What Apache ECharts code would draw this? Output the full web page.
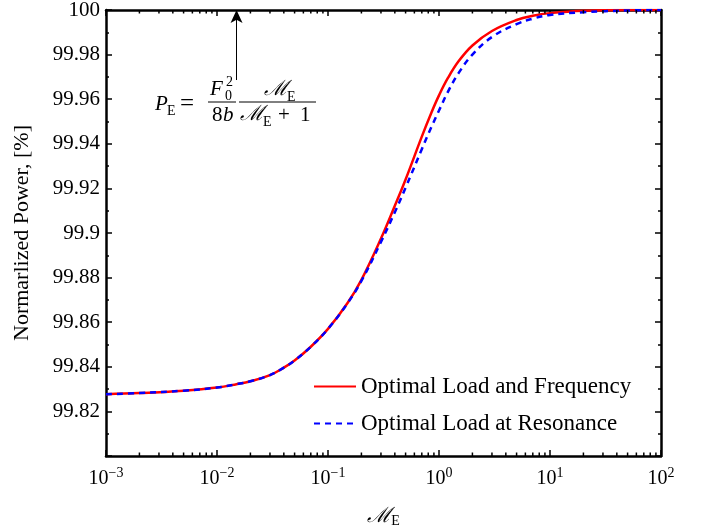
<!DOCTYPE html>
<html><head><meta charset="utf-8">
<script src="https://cdn.jsdelivr.net/npm/echarts@6/dist/echarts.min.js"></script>
<style>html,body{margin:0;padding:0;background:#fff}#c{width:702px;height:531px}</style>
</head><body><div id="c"></div>
<script>
const xValues   = [0.001, 0.002, 0.005, 0.01, 0.015, 0.02, 0.03, 0.04, 0.05, 0.07, 0.1, 0.15, 0.2, 0.3, 0.4, 0.5, 0.7, 0.85, 1, 1.2, 1.5, 2, 3, 5, 7, 10, 20, 50, 100];
const redValues = [99.8277, 99.8282, 99.8293, 99.8307, 99.8322, 99.8335, 99.8363, 99.8396, 99.8428, 99.8490, 99.8570, 99.8686, 99.8790, 99.8975, 99.9122, 99.9240, 99.9432, 99.9537, 99.9617, 99.9694, 99.9770, 99.9841, 99.9906, 99.9955, 99.9974, 99.9986, 99.9997, 100.0, 100.0];
const blueValues= [99.8277, 99.8282, 99.8293, 99.8307, 99.8322, 99.8335, 99.8363, 99.8396, 99.8428, 99.8490, 99.8570, 99.8685, 99.8785, 99.8960, 99.9093, 99.9203, 99.9376, 99.9473, 99.9549, 99.9632, 99.9717, 99.9800, 99.9879, 99.9937, 99.9961, 99.9978, 99.9990, 99.9998, 100.0];
const xMinorTicks = [0.002,0.003,0.004,0.005,0.006,0.007,0.008,0.009,
                     0.02,0.03,0.04,0.05,0.06,0.07,0.08,0.09,
                     0.2,0.3,0.4,0.5,0.6,0.7,0.8,0.9,
                     2,3,4,5,6,7,8,9,
                     20,30,40,50,60,70,80,90];
const seriesNames = ['Optimal Load and Frequency', 'Optimal Load at Resonance'];
const yMin = 99.8, yMax = 100, yInterval = 0.02;
const xMin = 0.001, xMax = 100;
const arrowX = 0.0150, arrowFromY = 99.9686;

const FONT = 'Liberation Serif';
const chart = echarts.init(document.getElementById('c'), null, {renderer:'canvas'});

function xLabel(v){
  const e = Math.round(Math.log10(v));
  return '{b|10}{s|' + (e < 0 ? '\u2212' + (-e) : e) + '}';
}
const xRich = {
  b:{fontFamily:FONT, fontSize:20, color:'#000'},
  s:{fontFamily:FONT, fontSize:14, color:'#000', padding:[0,0,12,0]}
};
const axisLineStyle = {color:'#000', width:2.5};
const tickStyle = {color:'#000', width:1.5};

chart.setOption({
  animation:false,
  backgroundColor:'#fff',
  grid:{left:106, right:41, top:10, bottom:75, outerBoundsMode:'none', containLabel:false},
  legend:{
    orient:'vertical', left:308, top:370, itemWidth:42, itemHeight:14, itemGap:14,
    data:seriesNames,
    itemStyle:{color:'rgba(0,0,0,0)', borderColor:'rgba(0,0,0,0)', borderWidth:0, opacity:0},
    textStyle:{fontFamily:FONT, fontSize:23, color:'#000'}
  },
  xAxis:[{
    type:'log', logBase:10, min:xMin, max:xMax, position:'bottom',
    name:'{m|\u2133}{e|E}', nameLocation:'middle', nameGap:50,
    nameTextStyle:{rich:{m:{fontFamily:'DejaVu Serif', fontSize:21, fontStyle:'italic', color:'#000'}, e:{fontFamily:FONT, fontSize:14, color:'#000', padding:[8,0,0,0]}}},
    axisLine:{show:true, lineStyle:axisLineStyle},
    axisTick:{show:true, inside:true, length:6, lineStyle:tickStyle},
    axisLabel:{formatter:xLabel, rich:xRich, margin:10},
    splitLine:{show:false}
  },{
    type:'log', logBase:10, min:xMin, max:xMax, position:'top',
    axisLine:{show:true, lineStyle:axisLineStyle},
    axisTick:{show:true, inside:true, length:6, lineStyle:tickStyle},
    axisLabel:{show:false}, splitLine:{show:false}
  }],
  yAxis:[{
    type:'value', min:yMin, max:yMax, interval:yInterval, position:'left',
    name:'Normarlized Power, [%]', nameLocation:'middle', nameGap:73, nameRotate:90,
    nameTextStyle:{fontFamily:FONT, fontSize:22, color:'#000'},
    axisLine:{show:true, lineStyle:axisLineStyle},
    axisTick:{show:true, inside:true, length:6, lineStyle:tickStyle},
    minorTick:{show:true, splitNumber:2, length:3, lineStyle:tickStyle},
    axisLabel:{fontFamily:FONT, fontSize:21, color:'#000', margin:6,
      formatter:v => Math.abs(v - yMin) < 1e-6 ? '' : String(+v.toFixed(2))},
    splitLine:{show:false}
  },{
    type:'value', min:yMin, max:yMax, interval:yInterval, position:'right',
    axisLine:{show:true, lineStyle:axisLineStyle},
    axisTick:{show:true, inside:true, length:6, lineStyle:tickStyle},
    minorTick:{show:true, splitNumber:2, length:3, lineStyle:tickStyle},
    axisLabel:{show:false}, splitLine:{show:false}
  }],
  series:[{
    name:seriesNames[0], type:'line', smooth:0.4, symbol:'none',
    data:xValues.map((x,i)=>[x, redValues[i]]),
    lineStyle:{color:'#ff0000', width:2.5}, itemStyle:{color:'#ff0000'}, z:3,
    markLine:{
      silent:true, symbol:['none','arrow'], symbolSize:[9,13],
      label:{show:false},
      lineStyle:{color:'#000', width:1, type:'solid'},
      data:[[{coord:[arrowX, arrowFromY]}, {coord:[arrowX, yMax]}]]
    }
  },{
    name:seriesNames[1], type:'line', smooth:0.4, symbol:'none',
    data:xValues.map((x,i)=>[x, blueValues[i]]),
    lineStyle:{color:'#0000ff', width:2.5, type:[6,5]}, itemStyle:{color:'#0000ff'}, z:4
  },{
    type:'custom', silent:true, z:6,
    data:xMinorTicks.map(v=>[v, yMin]),
    encode:{x:0, y:1},
    renderItem:(params, api)=>{
      const v = api.value(0);
      const b = api.coord([v, yMin]);
      const t = api.coord([v, yMax]);
      return {type:'group', children:[
        {type:'line', shape:{x1:b[0], y1:b[1], x2:b[0], y2:b[1]-3.5}, style:{stroke:'#000', lineWidth:1.5}},
        {type:'line', shape:{x1:t[0], y1:t[1], x2:t[0], y2:t[1]+3.5}, style:{stroke:'#000', lineWidth:1.5}}
      ]};
    }
  }],
  graphic:[
    {type:'text', style:{x:155, y:104, text:'P', font:'italic 21px "Liberation Serif"', fill:'#000', textVerticalAlign:'middle'}},
    {type:'text', style:{x:167, y:111, text:'E', font:'14px "Liberation Serif"', fill:'#000', textVerticalAlign:'middle'}},
    {type:'text', style:{x:180, y:104, text:'=', font:'25px "Liberation Serif"', fill:'#000', textVerticalAlign:'middle'}},
    {type:'text', style:{x:210, y:89, text:'F', font:'italic 21px "Liberation Serif"', fill:'#000', textVerticalAlign:'middle'}},
    {type:'text', style:{x:225, y:96, text:'0', font:'14px "Liberation Serif"', fill:'#000', textVerticalAlign:'middle'}},
    {type:'text', style:{x:226, y:82, text:'2', font:'14px "Liberation Serif"', fill:'#000', textVerticalAlign:'middle'}},
    {type:'line', shape:{x1:208, y1:102, x2:236, y2:102}, style:{stroke:'#000', lineWidth:1}},
    {type:'text', style:{x:212, y:115, text:'8', font:'21px "Liberation Serif"', fill:'#000', textVerticalAlign:'middle'}},
    {type:'text', style:{x:223, y:115, text:'b', font:'italic 21px "Liberation Serif"', fill:'#000', textVerticalAlign:'middle'}},
    {type:'text', style:{x:264, y:90, text:'\u2133', font:'italic 21px "DejaVu Serif"', fill:'#000', textVerticalAlign:'middle'}},
    {type:'text', style:{x:287, y:97, text:'E', font:'14px "Liberation Serif"', fill:'#000', textVerticalAlign:'middle'}},
    {type:'line', shape:{x1:239, y1:102, x2:316, y2:102}, style:{stroke:'#000', lineWidth:1}},
    {type:'text', style:{x:240, y:115, text:'\u2133', font:'italic 21px "DejaVu Serif"', fill:'#000', textVerticalAlign:'middle'}},
    {type:'text', style:{x:263, y:122, text:'E', font:'14px "Liberation Serif"', fill:'#000', textVerticalAlign:'middle'}},
    {type:'text', style:{x:278, y:115, text:'+', font:'21px "Liberation Serif"', fill:'#000', textVerticalAlign:'middle'}},
    {type:'text', style:{x:300, y:115, text:'1', font:'21px "Liberation Serif"', fill:'#000', textVerticalAlign:'middle'}}
  ]
});
</script>
</body></html>
